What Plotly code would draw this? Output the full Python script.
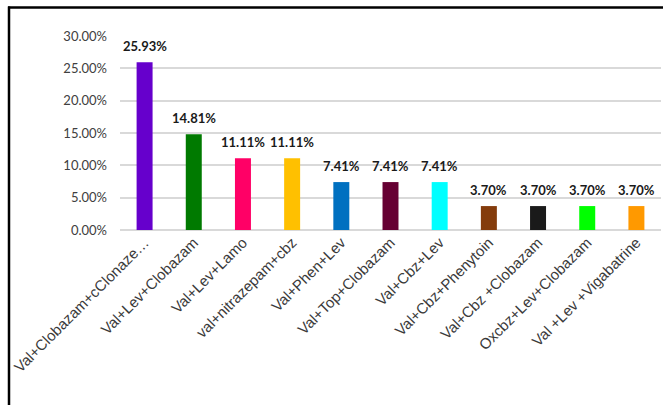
import plotly.graph_objects as go

categories = ["Val+Clobazam+cClonaze…", "Val+Lev+Clobazam", "Val+Lev+Lamo", "val+nitrazepam+cbz",
              "Val+Phen+Lev", "Val+Top+Clobazam", "Val+Cbz+Lev", "Val+Cbz+Phenytoin",
              "Val+Cbz +Clobazam", "Oxcbz+Lev+Clobazam", "Val +Lev +Vigabatrine"]
values = [0.2593, 0.1481, 0.1111, 0.1111, 0.0741, 0.0741, 0.0741, 0.0370, 0.0370, 0.0370, 0.0370]
labels = ["25.93%", "14.81%", "11.11%", "11.11%", "7.41%", "7.41%", "7.41%", "3.70%", "3.70%", "3.70%", "3.70%"]
colors = ["#6600CC", "#007A00", "#FF0066", "#FFC000", "#0070C0", "#660033", "#00FFFF",
          "#843C0C", "#1A1A1A", "#00FF00", "#FF9900"]
y_ticks = [0, 0.05, 0.10, 0.15, 0.20, 0.25, 0.30]

W, H = 671, 405
L, R, T, B = 120, 10, 36, 175
pw, ph = W - L - R, H - T - B

def px_x(p):
    return (p - L) / pw

def px_y(p):
    return (H - B - p) / ph

fig = go.Figure()
fig.add_trace(go.Bar(x=categories, y=values, marker=dict(color=colors, line=dict(width=0)),
                     hoverinfo="skip"))

for c, v, t in zip(categories, values, labels):
    fig.add_annotation(x=c, y=v, text="<b>%s</b>" % t, showarrow=False, yanchor="bottom",
                       yshift=6, font=dict(family="Lato, Calibri, sans-serif", size=13, color="#1a1a1a"))

# outer border (top and left edges visible)
fig.add_shape(type="line", xref="paper", yref="paper", x0=px_x(8), x1=px_x(663),
              y0=px_y(7.5), y1=px_y(7.5), line=dict(color="black", width=2.5))
fig.add_shape(type="line", xref="paper", yref="paper", x0=px_x(9), x1=px_x(9),
              y0=px_y(6.5), y1=px_y(410), line=dict(color="black", width=2.5))

fig.update_layout(
    width=W, height=H,
    margin=dict(l=L, r=R, t=T, b=B, pad=0),
    paper_bgcolor="white", plot_bgcolor="white",
    bargap=0.675, showlegend=False,
    xaxis=dict(tickangle=-45, tickfont=dict(family="Liberation Sans, Arial, sans-serif", size=15, color="#3a3a3a"),
               showgrid=False, showline=False, ticks=""),
    yaxis=dict(range=[0, 0.30], tickvals=y_ticks, tickformat=".2%",
               tickfont=dict(family="Lato, Calibri, sans-serif", size=13, color="#404040"),
               showgrid=True, gridcolor="#D9D9D9", gridwidth=1.5, zeroline=True,
               zerolinecolor="#D9D9D9", zerolinewidth=1.5, showline=False, ticks="",
               ticklabelstandoff=12),
)

fig.write_html("out.html")
